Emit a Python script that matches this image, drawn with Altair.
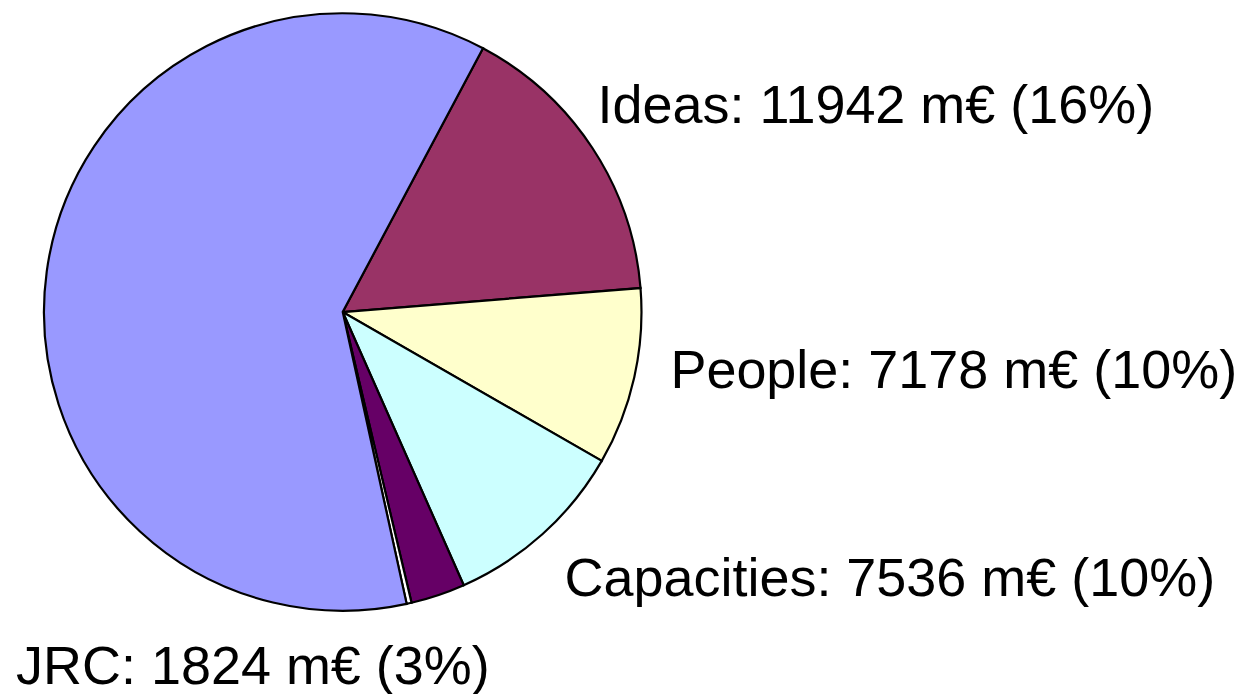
import math
import altair as alt
import pandas as pd

# Slice data (clockwise from the Ideas slice)
names = ["Ideas", "People", "Capacities", "JRC", "Other", "Cooperation"]
values = [11942, 7178, 7536, 2200, 200, 45850]
labels = [
    "Ideas: 11942 m€ (16%)",
    "People: 7178 m€ (10%)",
    "Capacities: 7536 m€ (10%)",
    "JRC: 1824 m€ (3%)",
    "",
    "",
]
colors = ["#993366", "#FFFFCC", "#CCFFFF", "#660066", "#FFFFFF", "#9999FF"]

df = pd.DataFrame({
    "idx": list(range(len(names))),
    "name": names,
    "value": values,
    "label": labels,
})

total = sum(values)
start = math.radians(28.0)
theta_scale = alt.Scale(domain=[0, total], range=[start, start + 2 * math.pi])
FONT = "Liberation Sans"

pie = alt.Chart(df).mark_arc(radius=299, stroke="black", strokeWidth=2.2).encode(
    theta=alt.Theta("value:Q", stack=True, scale=theta_scale),
    order=alt.Order("idx:Q"),
    color=alt.Color("name:N", scale=alt.Scale(domain=names, range=colors), legend=None),
)

offsets = {
    "Ideas": (-12.5, -13.6),
    "People": (15.7, 5.7),
    "Capacities": (7.9, 46.2),
    "JRC": (-429.0, 68.5),
}

texts = []
for nm, (dx, dy) in offsets.items():
    t = (
        alt.Chart(df)
        .transform_window(cum="sum(value)", sort=[alt.SortField("idx")])
        .transform_calculate(mid="datum.cum - datum.value / 2")
        .transform_filter(alt.datum.name == nm)
        .mark_text(align="left", baseline="alphabetic", radius=320, dx=dx, dy=dy,
                   font=FONT, fontSize=54, color="black")
        .encode(theta=alt.Theta("mid:Q", scale=theta_scale), text="label:N")
    )
    texts.append(t)

chart = (
    alt.layer(pie, *texts)
    .properties(width=670, height=600, padding=0)
    .configure_view(stroke=None)
)

chart.save("out.html", embed_options={"renderer": "svg", "actions": False})
